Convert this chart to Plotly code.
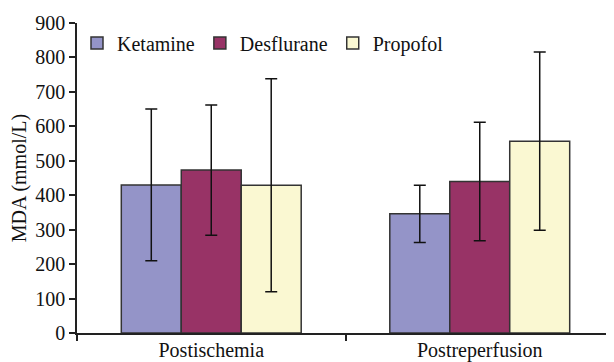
import plotly.graph_objects as go

categories = ["Postischemia", "Postreperfusion"]
series_names = ["Ketamine", "Desflurane", "Propofol"]
ketamine = [430, 346]
ketamine_err = [220, 83]
desflurane = [473, 440]
desflurane_err = [189, 172]
propofol = [429, 557]
propofol_err = [309, 259]
y_ticks = [0, 100, 200, 300, 400, 500, 600, 700, 800, 900]

colors = ["#9494C8", "#983366", "#FAF8D2"]
values = [ketamine, desflurane, propofol]
errors = [ketamine_err, desflurane_err, propofol_err]

font_family = "Liberation Serif, Times New Roman, serif"

fig = go.Figure()
for name, vals, errs, col in zip(series_names, values, errors, colors):
    fig.add_trace(go.Bar(
        x=categories, y=vals, name=name,
        marker=dict(color=col, line=dict(color="#333333", width=1.5)),
        error_y=dict(type="data", array=errs, visible=True,
                     color="#111111", thickness=1.5, width=6),
    ))

fig.update_layout(
    width=606, height=354,
    margin=dict(l=69, r=0, t=15, b=29),
    barmode="group", bargap=0.33, bargroupgap=0,
    plot_bgcolor="white", paper_bgcolor="white",
    font=dict(family=font_family, size=20, color="#111111"),
    showlegend=True,
    legend=dict(orientation="h", x=0.0, xanchor="left",
                y=0.998, yanchor="top",
                bgcolor="rgba(0,0,0,0)", font=dict(size=20, family=font_family),
                itemwidth=30, traceorder="normal"),
)
fig.update_xaxes(
    range=[-0.5, 1.5], showline=True, linecolor="#222222", linewidth=1.5,
    ticks="outside", tickson="boundaries", ticklen=6, tickcolor="#222222",
    tickwidth=1.5, showgrid=False, tickfont=dict(size=20), automargin=False,
    ticklabelstandoff=-2,
)
fig.update_yaxes(
    range=[0, 900], tickvals=y_ticks, showline=True, linecolor="#222222",
    linewidth=1.5, ticks="outside", ticklen=6, tickcolor="#222222", tickwidth=1.5,
    showgrid=False, zeroline=False, tickfont=dict(size=20), automargin=False,
    title=dict(text="MDA (mmol/L)", font=dict(size=20), standoff=6),
)

fig.write_html("out.html")
